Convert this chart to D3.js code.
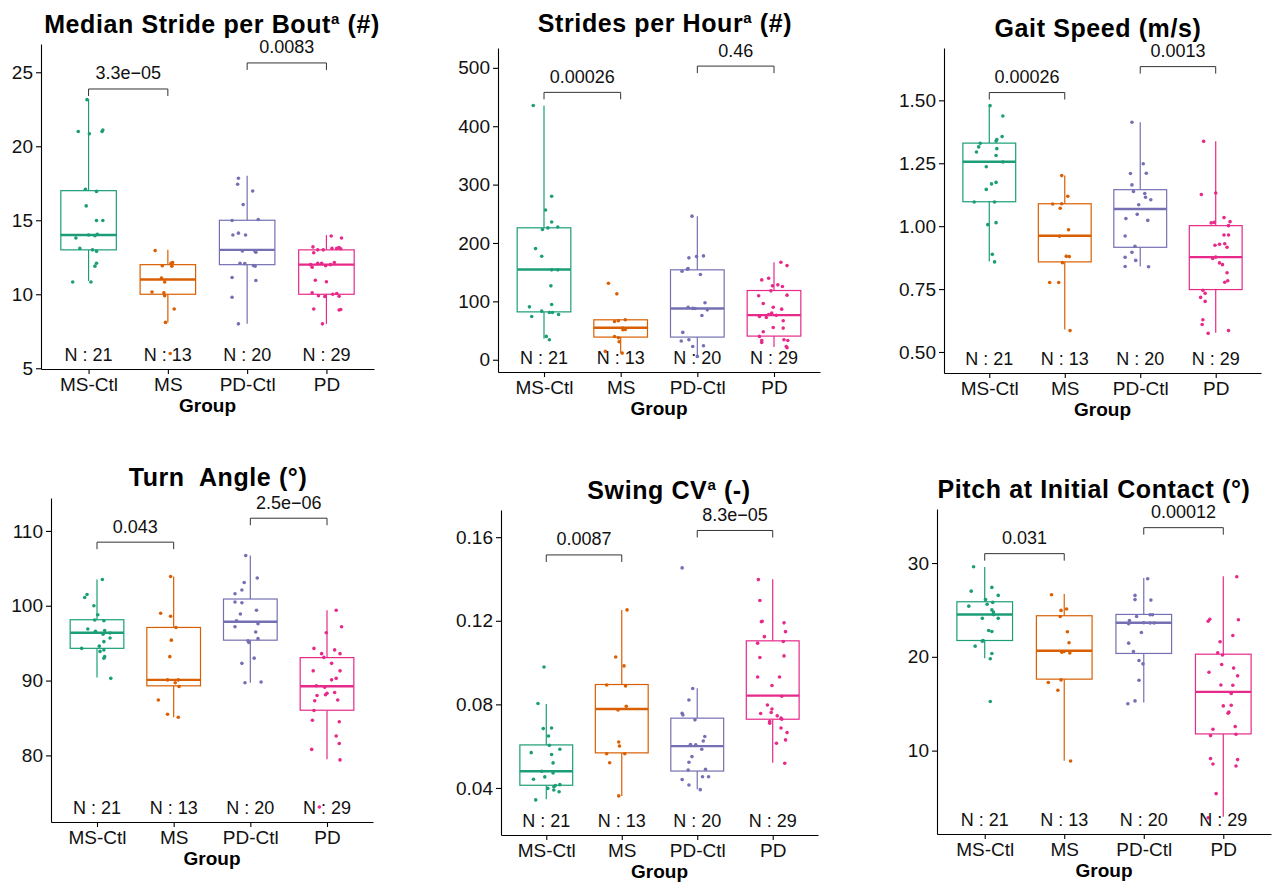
<!DOCTYPE html>
<html>
<head>
<meta charset="utf-8">
<script src="https://cdn.jsdelivr.net/npm/d3@7"></script>
<style>
  body { margin: 0; background: #fff; }
  text { font-family: "Liberation Sans", Arial, sans-serif; }
</style>
</head>
<body>
<svg width="1275" height="882"></svg>
<script>
var groups = ["MS-Ctl", "MS", "PD-Ctl", "PD"];
var groupN = [21, 13, 20, 29];
var colors = ["#1B9E77", "#D95F02", "#7570B3", "#E7298A"];

// --- Median stride per bout
var strideBoutValues = [
  [23.15,21.0,20.85,21.0,21.1,17.1,16.95,15.97,14.98,14.98,14.05,13.95,13.8,13.1,13.0,12.9,12.1,11.9,10.83,10.83,14.0],
  [12.95,11.93,12.1,12.15,11.9,11.1,10.83,10.15,10.1,9.9,9.0,8.1,6.0],
  [17.84,17.43,16.98,16.06,14.98,15.05,14.0,14.13,14.0,12.93,12.9,12.84,12.1,12.07,11.94,11.9,11.13,10.93,9.8,8.0],
  [13.94,13.8,13.2,12.8,13.0,13.1,13.1,13.15,13.08,12.0,11.83,12.1,12.1,11.93,12.15,10.95,10.85,10.1,9.9,9.85,10.05,9.87,9.0,8.94,8.97,8.0,12.0,10.0,13.0]
];
var strideBoutJitter = [
  [-0.02,-0.13,0.01,0.17,0.18,-0.04,0.10,-0.03,0.10,0.18,0.11,0.08,-0.16,-0.11,0.05,0.10,0.10,0.08,-0.20,0.03,0.0],
  [-0.16,-0.07,0.04,0.06,0.05,-0.08,-0.04,-0.20,-0.05,-0.04,0.08,-0.03,0.03],
  [-0.11,-0.12,0.07,-0.05,-0.19,0.14,-0.18,-0.11,-0.02,-0.06,0.10,0.11,-0.09,-0.03,0.08,0.10,-0.19,0.11,-0.19,-0.11],
  [0.06,0.19,-0.17,-0.16,-0.04,0.07,0.13,0.16,0.18,-0.20,-0.18,-0.11,-0.06,-0.01,0.10,-0.14,0.00,-0.18,-0.10,-0.02,0.13,0.16,-0.16,0.16,0.18,-0.05,0.05,0.08,-0.11]
];
var strideBoutBoxes = [[10.9,13.0,14.0,17.0,23.2],[8.1,10.0,11.0,12.0,13.0],[8.0,12.0,13.0,15.0,18.0],[8.0,10.0,12.0,13.0,14.0]];
var strideBoutBrackets = [23.87, 25.63];
var strideBoutP = ["3.3e\u221205", "0.0083"];

// --- Strides per hour
var stridesHourValues = [
  [435.6,280,256.5,236,223,225.8,227.5,190.4,177.3,154,154,126.6,90.6,94.6,74,83.2,81,81,77.5,40,34.2],
  [131,112.9,65.6,66.7,68.4,54.2,51.9,39.9,37.6,30.8,11.4,14.3,51.3],
  [246,174.5,176.7,177.9,155,151.7,146,97.5,90,87.8,85.5,75.8,46.8,34.2,32,22.8,24,5.7,88,156],
  [167,161.3,136.8,139.7,126.6,128.3,125.4,118,109.5,110.6,96.4,90,86.7,79.8,77.5,72.4,74,66.7,47.9,55.3,54.2,40,33,29.6,34.2,33,22.8,20.5,76]
];
var stridesHourJitter = [
  [-0.14,0.10,0.02,0.10,-0.02,0.05,0.18,-0.11,-0.03,0.10,0.18,0.09,-0.19,0.10,-0.16,-0.03,0.07,0.11,0.19,0.03,0.07],
  [-0.16,-0.05,-0.08,-0.03,0.06,0.03,0.06,-0.08,-0.03,-0.02,0.02,-0.20,0.03],
  [-0.07,-0.11,-0.01,0.08,-0.13,-0.20,0.04,0.10,-0.12,-0.03,0.13,0.06,-0.19,-0.11,-0.21,-0.06,0.08,0,-0.06,-0.12],
  [0.09,0.17,-0.16,-0.07,-0.02,0.05,0.11,-0.04,-0.20,0.17,-0.14,-0.01,0.10,-0.03,-0.07,-0.10,-0.19,0.12,-0.14,-0.01,0.12,-0.19,-0.16,-0.16,0.13,0.18,0.16,0.17,0.03]
];
var stridesHourBoxes = [[36,82,154.5,226,435.6],[11,38.8,54.7,68.4,68.4],[5.7,38.8,87.8,154,246],[22,40.5,76.4,118.6,167]];
var stridesHourBrackets = [458, 503];
var stridesHourP = ["0.00026", "0.46"];

// --- Gait speed
var gaitSpeedValues = [
  [1.479,1.438,1.356,1.344,1.338,1.329,1.315,1.295,1.308,1.281,1.255,1.236,1.174,1.168,1.146,1.096,1.096,1.014,1.006,0.888,0.858],
  [1.201,1.119,1.088,1.089,1.071,0.986,0.960,0.880,0.879,0.855,0.776,0.776,0.585],
  [1.413,1.248,1.209,1.210,1.164,1.138,1.130,1.115,1.105,1.085,1.030,1.047,1.023,0.961,0.920,0.896,0.876,0.864,0.840,0.839],
  [1.337,1.126,1.132,1.034,1.018,1.013,1.015,1.002,0.965,0.965,0.924,0.928,0.930,0.916,0.872,0.854,0.847,0.815,0.783,0.777,0.745,0.733,0.717,0.701,0.628,0.609,0.574,0.585,0.877]
];
var gaitSpeedJitter = [
  [0.01,0.18,0.17,0.10,0.09,-0.12,-0.14,-0.17,0.10,0.09,0.18,-0.04,0.09,0.03,-0.04,-0.20,0.07,0.09,-0.02,0.04,0.07],
  [-0.04,0.04,-0.16,-0.04,-0.06,0.05,-0.07,0.02,0.06,-0.03,-0.20,-0.08,0.07],
  [-0.11,0.04,-0.13,0.08,-0.11,-0.09,0.06,0.07,0.14,-0.02,-0.19,-0.04,0.10,-0.20,-0.07,-0.11,-0.20,-0.06,-0.20,0.11],
  [-0.16,-0.19,0.00,0.11,0.19,-0.06,-0.02,0.17,0.11,0.17,-0.01,0.05,0.12,0.15,-0.04,0.05,0.09,0.15,0.16,0.12,-0.17,-0.14,-0.20,-0.14,-0.17,-0.18,-0.10,0.17,0]
];
var gaitSpeedBoxes = [[0.860,1.097,1.256,1.330,1.476],[0.589,0.858,0.962,1.089,1.201],[0.840,0.916,1.068,1.145,1.413],[0.576,0.748,0.877,1.002,1.337]];
var gaitSpeedBrackets = [1.531, 1.634];
var gaitSpeedP = ["0.00026", "0.0013"];

// --- Turn angle
var turnAngleValues = [
  [103.5,101.5,101.1,100.0,98.8,98.1,98.0,96.9,96.6,96.7,96.2,96.36,95.7,95.2,94.6,94.3,94.1,93.9,93.2,93.0,90.3],
  [103.9,99.0,98.6,97.1,95.4,93.2,90.09,90.09,89.7,89.2,87.4,85.5,85.1],
  [106.7,103.7,103.1,102.1,101.6,100.5,100.4,99.4,98.9,98.0,97.6,97.2,96.5,95.6,95.3,95.1,92.3,93.0,89.7,89.8],
  [99.4,97.2,96.4,94.3,94.1,93.6,93.1,93.6,92.3,91.3,91.3,90.1,90.3,89.3,89.1,88.0,88.3,88.1,88.4,87.3,87.4,86.0,84.7,84.5,82.6,81.6,80.8,79.4,73.1]
];
var turnAngleJitter = [
  [0.07,-0.13,-0.16,-0.04,0.01,-0.03,0.09,-0.12,-0.02,0.10,0.08,0.17,0.17,0.09,0.03,-0.20,0.09,0.04,0.10,0.09,0.18],
  [-0.04,-0.17,-0.04,0.03,-0.03,-0.05,-0.08,0.06,0.02,0.07,-0.20,-0.08,0.06],
  [-0.06,0.09,-0.08,-0.11,-0.20,-0.20,-0.11,0.08,-0.13,-0.18,0.10,-0.20,0.07,0.10,-0.03,-0.02,-0.11,0.05,-0.07,0.14],
  [0.12,0.19,-0.01,-0.17,0.10,-0.07,-0.04,0.17,0.06,-0.18,0.17,0.06,0.12,-0.14,-0.03,-0.13,0,-0.02,0.10,-0.16,0.14,-0.17,-0.19,0.16,0.12,0.16,-0.20,0.17,-0.10]
];
var turnAngleBoxes = [[90.4,94.31,96.4,98.13,103.5],[85.1,89.3,90.09,97.1,103.9],[89.7,95.4,97.87,100.9,106.7],[79.5,86.04,89.24,93.07,99.4]];
var turnAngleBrackets = [108.5, 111.7];
var turnAngleP = ["0.043", "2.5e\u221206"];

// --- Swing CV
var swingCvValues = [
  [0.0979,0.0804,0.0684,0.0687,0.0649,0.0604,0.0569,0.0585,0.0560,0.0520,0.0472,0.0453,0.0442,0.0416,0.0406,0.0398,0.0390,0.0382,0.0343,0.0480,0.0412],
  [0.1252,0.1027,0.0984,0.0893,0.0888,0.0773,0.0791,0.0620,0.0601,0.0564,0.0564,0.0521,0.0362],
  [0.1453,0.0876,0.0821,0.0749,0.0757,0.0726,0.0646,0.0608,0.0606,0.0625,0.0585,0.0550,0.0523,0.0486,0.0489,0.0440,0.0454,0.0454,0.0414,0.0392],
  [0.1397,0.1297,0.1198,0.1195,0.1190,0.1148,0.1124,0.1093,0.1101,0.1024,0.1032,0.0931,0.0931,0.0890,0.0839,0.0797,0.0778,0.0761,0.0756,0.0745,0.0734,0.0729,0.0718,0.0710,0.0687,0.0665,0.0630,0.0614,0.0518]
];
var swingCvJitter = [
  [-0.03,-0.11,-0.04,0.07,0.03,0.04,-0.20,0.18,0.07,0.09,0.09,-0.02,-0.17,0.18,0.10,0.02,0.10,0.17,-0.14,-0.06,0.12],
  [0.07,-0.08,0.03,-0.20,0.05,-0.05,0.06,-0.04,-0.03,-0.20,0.04,-0.16,-0.04],
  [-0.20,-0.06,-0.11,-0.19,-0.20,-0.03,0.10,-0.09,-0.02,0.08,0.06,-0.07,-0.11,-0.12,0.11,-0.20,0.07,0.15,-0.11,0.04],
  [-0.19,-0.17,-0.14,-0.15,0.15,0.17,-0.11,-0.20,0.14,-0.17,0.15,-0.20,0.09,-0.01,0.12,-0.07,-0.01,-0.02,-0.16,0.06,0.11,0.12,-0.04,-0.04,0.11,0.19,0.17,0.05,0.16]
];
var swingCvBoxes = [[0.0346,0.0413,0.0480,0.0606,0.0802],[0.0362,0.0568,0.0778,0.0895,0.1252],[0.0394,0.0481,0.0600,0.0734,0.0877],[0.0521,0.0729,0.0842,0.1104,0.1399]];
var swingCvBrackets = [0.1515, 0.1632];
var swingCvP = ["0.0087", "8.3e\u221205"];

// --- Pitch at initial contact
var pitchIcValues = [
  [29.6,27.0,27.4,26.55,26.1,25.6,25.8,25.4,25.0,24.77,24.1,24.1,22.8,22.7,21.74,21.67,21.14,20.36,19.79,15.23,24.5],
  [26.62,24.95,25.1,24.3,22.67,21.5,20.5,20.4,20.57,17.54,17.26,16.44,8.9],
  [28.33,26.55,26.1,26.05,24.3,24.48,24.48,23.88,23.52,23.6,23.6,22.6,21.46,20.57,19.6,19.25,17.5,15.3,15.0,23.63],
  [28.54,24.0,23.8,23.95,22.28,21.6,20.43,20.2,19.18,18.36,18.8,17.97,17.0,16.97,16.1,14.77,14.84,13.99,14.1,12.28,12.56,11.6,11.74,9.15,8.58,9.04,8.36,5.41,2.85]
];
var pitchIcJitter = [
  [-0.14,-0.17,0.09,0.17,0.01,0.03,0.10,-0.20,0.09,0.11,-0.03,0.17,0.05,0.09,-0.02,-0.03,-0.12,0.09,0.07,0.07,0.11],
  [-0.16,-0.04,0.03,-0.05,0.04,0.06,-0.03,0.07,0.00,-0.04,-0.20,-0.08,0.08],
  [0.05,-0.11,-0.11,0.09,-0.09,0.08,0.11,-0.18,-0.19,0.08,0.13,-0.03,-0.19,-0.13,-0.06,-0.01,-0.06,-0.11,-0.20,0],
  [0.17,-0.17,-0.19,0.19,0.12,-0.04,-0.07,-0.01,-0.02,-0.18,0.13,0.18,-0.03,0.12,0.10,0.00,0.10,0.06,0.07,-0.13,0.15,-0.16,0.16,-0.16,-0.13,0.18,0.16,-0.09,-0.19]
];
var pitchIcBoxes = [[19.86,21.74,24.52,25.87,29.57],[8.93,17.62,20.64,24.38,26.69],[15.12,20.36,23.63,24.52,28.40],[2.95,11.78,16.26,20.28,28.58]];
var pitchIcBrackets = [31.0, 33.77];
var pitchIcP = ["0.031", "0.00012"];

var svg = d3.select("svg");

var panels = [
  { title: ["Median Stride per Bout", "a", " (#)"], values: strideBoutValues, jitter: strideBoutJitter,
    boxes: strideBoutBoxes, brackets: strideBoutBrackets, pvals: strideBoutP,
    ticks: [5, 10, 15, 20, 25], fmt: d3.format("d"), domain: [4.95, 26.91],
    frame: { x0: 41, x1: 374, y0: 44, y1: 369 }, tx: 212, ty: 33 },
  { title: ["Strides per Hour", "a", " (#)"], values: stridesHourValues, jitter: stridesHourJitter,
    boxes: stridesHourBoxes, brackets: stridesHourBrackets, pvals: stridesHourP,
    ticks: [0, 100, 200, 300, 400, 500], fmt: d3.format("d"), domain: [-21, 534],
    frame: { x0: 498, x1: 820, y0: 48, y1: 372 }, tx: 665, ty: 32 },
  { title: ["Gait Speed (m/s)"], values: gaitSpeedValues, jitter: gaitSpeedJitter,
    boxes: gaitSpeedBoxes, brackets: gaitSpeedBrackets, pvals: gaitSpeedP,
    ticks: [0.5, 0.75, 1.0, 1.25, 1.5], fmt: d3.format(".2f"), domain: [0.4165, 1.708],
    frame: { x0: 944, x1: 1261, y0: 48, y1: 373 }, tx: 1098, ty: 37 },
  { title: ["Turn  Angle (\u00b0)"], values: turnAngleValues, jitter: turnAngleJitter,
    boxes: turnAngleBoxes, brackets: turnAngleBrackets, pvals: turnAngleP,
    ticks: [80, 90, 100, 110], fmt: d3.format("d"), domain: [71.1, 114.4],
    frame: { x0: 51, x1: 373, y0: 498, y1: 822 }, tx: 218, ty: 486 },
  { title: ["Swing CV", "a", " (-)"], values: swingCvValues, jitter: swingCvJitter,
    boxes: swingCvBoxes, brackets: swingCvBrackets, pvals: swingCvP,
    ticks: [0.04, 0.08, 0.12, 0.16], fmt: d3.format(".2f"), domain: [0.0175, 0.173],
    frame: { x0: 501, x1: 818, y0: 510, y1: 835 }, tx: 669, ty: 499 },
  { title: ["Pitch at Initial Contact (\u00b0)"], values: pitchIcValues, jitter: pitchIcJitter,
    boxes: pitchIcBoxes, brackets: pitchIcBrackets, pvals: pitchIcP,
    ticks: [10, 20, 30], fmt: d3.format("d"), domain: [1.11, 35.76],
    frame: { x0: 937, x1: 1271, y0: 509, y1: 834 }, tx: 1094, ty: 498 }
];

panels.forEach(drawPanel);

function drawPanel(p) {
  var f = p.frame;
  var g = svg.append("g");

  var x = d3.scalePoint().domain(groups).range([f.x0, f.x1]).padding(0.6);
  var y = d3.scaleLinear().domain(p.domain).range([f.y1, f.y0]);
  var step = x.step();
  var boxW = step * 0.7;

  // title
  var title = g.append("text")
    .attr("x", p.tx).attr("y", p.ty)
    .attr("text-anchor", "middle")
    .style("font-size", "25px").style("font-weight", "bold")
    .style("letter-spacing", "0.6px")
    .style("white-space", "pre");
  title.append("tspan").text(p.title[0]);
  if (p.title.length > 1) {
    title.append("tspan").attr("dy", -9).style("font-size", "15px").text(p.title[1]);
    title.append("tspan").attr("dy", 9).text(p.title[2]);
  }

  // axes
  var yAxis = g.append("g")
    .attr("transform", "translate(" + f.x0 + ",0)")
    .call(d3.axisLeft(y).tickValues(p.ticks).tickFormat(p.fmt).tickSize(5).tickSizeOuter(0).tickPadding(3));
  var xAxis = g.append("g")
    .attr("transform", "translate(0," + f.y1 + ")")
    .call(d3.axisBottom(x).tickSize(5).tickSizeOuter(0).tickPadding(4));
  [yAxis, xAxis].forEach(function(a) {
    a.attr("font-family", null).attr("font-size", null);
    a.selectAll("text").style("font-size", "19px").attr("fill", "#111");
    a.selectAll("path, line").attr("stroke", "#000").attr("stroke-width", 1.1);
  });

  g.append("text")
    .attr("x", (f.x0 + f.x1) / 2).attr("y", f.y1 + 43)
    .attr("text-anchor", "middle")
    .style("font-size", "19px").style("font-weight", "bold")
    .text("Group");

  // boxplots
  var boxes = g.append("g").selectAll("g")
    .data(p.boxes).enter().append("g");

  boxes.append("line")
    .attr("x1", function(d, i) { return x(groups[i]); })
    .attr("x2", function(d, i) { return x(groups[i]); })
    .attr("y1", function(d) { return y(d[3]); })
    .attr("y2", function(d) { return y(d[4]); })
    .attr("stroke", function(d, i) { return colors[i]; })
    .attr("stroke-width", 1.2);
  boxes.append("line")
    .attr("x1", function(d, i) { return x(groups[i]); })
    .attr("x2", function(d, i) { return x(groups[i]); })
    .attr("y1", function(d) { return y(d[1]); })
    .attr("y2", function(d) { return y(d[0]); })
    .attr("stroke", function(d, i) { return colors[i]; })
    .attr("stroke-width", 1.2);
  boxes.append("rect")
    .attr("x", function(d, i) { return x(groups[i]) - boxW / 2; })
    .attr("width", boxW)
    .attr("y", function(d) { return y(d[3]); })
    .attr("height", function(d) { return y(d[1]) - y(d[3]); })
    .attr("fill", "#fff")
    .attr("stroke", function(d, i) { return colors[i]; })
    .attr("stroke-width", 1.2);
  boxes.append("line")
    .attr("x1", function(d, i) { return x(groups[i]) - boxW / 2; })
    .attr("x2", function(d, i) { return x(groups[i]) + boxW / 2; })
    .attr("y1", function(d) { return y(d[2]); })
    .attr("y2", function(d) { return y(d[2]); })
    .attr("stroke", function(d, i) { return colors[i]; })
    .attr("stroke-width", 2.4);

  // jittered points
  var pts = [];
  p.values.forEach(function(vals, i) {
    vals.forEach(function(v, j) {
      pts.push({ g: i, v: v, j: p.jitter[i][j] });
    });
  });
  g.append("g").selectAll("circle")
    .data(pts).enter().append("circle")
    .attr("cx", function(d) { return x(groups[d.g]) + d.j * step; })
    .attr("cy", function(d) { return y(d.v); })
    .attr("r", 1.8)
    .attr("fill", function(d) { return colors[d.g]; });

  // N labels
  g.append("g").selectAll("text")
    .data(groupN).enter().append("text")
    .attr("x", function(d, i) { return x(groups[i]); })
    .attr("y", f.y1 - 8.5)
    .attr("text-anchor", "middle")
    .style("font-size", "18px")
    .attr("fill", "#111")
    .text(function(d) { return "N : " + d; });

  // comparison brackets
  var pairs = [[0, 1], [2, 3]];
  pairs.forEach(function(pr, k) {
    var xa = x(groups[pr[0]]), xb = x(groups[pr[1]]);
    var yb = y(p.brackets[k]);
    g.append("path")
      .attr("d", "M" + xa + "," + (yb + 7) + "V" + yb + "H" + xb + "V" + (yb + 7))
      .attr("fill", "none")
      .attr("stroke", "#333")
      .attr("stroke-width", 1);
    g.append("text")
      .attr("x", (xa + xb) / 2).attr("y", yb - 9.5)
      .attr("text-anchor", "middle")
      .style("font-size", "18px")
      .attr("fill", "#111")
      .text(p.pvals[k]);
  });
}
</script>
</body>
</html>
